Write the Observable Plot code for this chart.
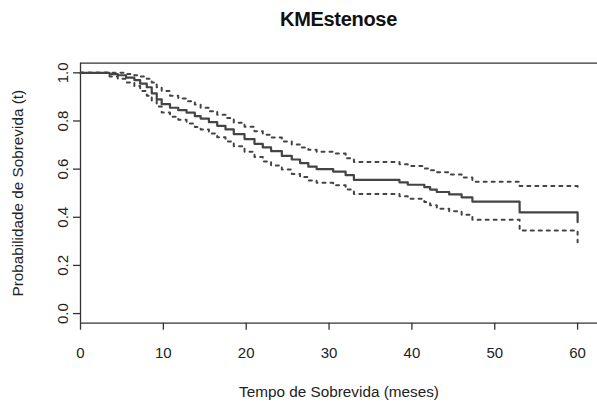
<!DOCTYPE html>
<html><head><meta charset="utf-8">
<script src="https://cdn.jsdelivr.net/npm/d3@7"></script>
<script src="https://cdn.jsdelivr.net/npm/@observablehq/plot@0.6"></script>
<style>
html,body{margin:0;padding:0;background:#fff;}
#title{width:517px;height:40px;line-height:39px;padding-left:80px;text-align:center;font-family:"Liberation Sans",Arial,sans-serif;font-weight:bold;font-size:20px;letter-spacing:-0.3px;color:#111;}
</style></head><body>
<div id="title">KMEstenose</div>
<div id="chart"></div>
<script>
const titleText = "KMEstenose";
const xLabel = "Tempo de Sobrevida (meses)";
const yLabel = "Probabilidade de Sobrevida (t)";
const xTicks = [0, 10, 20, 30, 40, 50, 60];
const yTicks = [0, 0.2, 0.4, 0.6, 0.8, 1.0];

const times = [0, 3.5, 4.5, 5.5, 6.5, 7.2, 8.0, 8.6, 9.2, 9.8, 10.8, 11.8, 12.8, 13.8, 14.5, 15.5, 16.5, 17.5, 18.5, 19.8, 21.0, 22.0, 23.0, 24.3, 25.5, 26.5, 27.5, 28.5, 30.5, 32.0, 33.0, 38.5, 39.5, 41.5, 42.2, 43.0, 44.5, 46.0, 47.3, 53.0, 60];
const surv = [1.0, 0.995, 0.99, 0.98, 0.97, 0.955, 0.94, 0.915, 0.89, 0.87, 0.855, 0.845, 0.835, 0.82, 0.81, 0.795, 0.78, 0.765, 0.745, 0.725, 0.705, 0.69, 0.675, 0.655, 0.64, 0.625, 0.61, 0.60, 0.59, 0.575, 0.555, 0.545, 0.535, 0.525, 0.515, 0.505, 0.495, 0.483, 0.465, 0.42, 0.38];
const upper = [1.0, 1.0, 1.0, 0.995, 0.99, 0.985, 0.975, 0.96, 0.94, 0.925, 0.905, 0.893, 0.882, 0.868, 0.855, 0.84, 0.826, 0.812, 0.793, 0.776, 0.757, 0.743, 0.731, 0.715, 0.702, 0.69, 0.68, 0.672, 0.665, 0.645, 0.63, 0.62, 0.613, 0.603, 0.595, 0.587, 0.578, 0.565, 0.548, 0.53, 0.51];
const lower = [1.0, 0.985, 0.975, 0.96, 0.945, 0.925, 0.905, 0.885, 0.86, 0.835, 0.818, 0.805, 0.79, 0.775, 0.765, 0.748, 0.732, 0.715, 0.695, 0.672, 0.65, 0.632, 0.615, 0.598, 0.58, 0.567, 0.553, 0.543, 0.533, 0.515, 0.497, 0.487, 0.477, 0.463, 0.45, 0.435, 0.425, 0.41, 0.39, 0.345, 0.296];

const data = times.map((t, i) => ({t, s: surv[i], hi: upper[i], lo: lower[i]}));
const xDomain = [0, 62.4];
const yDomain = [-0.04, 1.04];
const font = '"Liberation Sans",Arial,Helvetica,sans-serif';
document.getElementById("title").textContent = titleText;

const chart = Plot.plot({
  width: 597,
  height: 372,
  marginTop: 22.7,
  marginBottom: 89.3,
  marginLeft: 80,
  marginRight: 0,
  style: {fontFamily: font, background: "#fff", color: "#222", overflow: "visible"},
  x: {domain: xDomain, axis: null},
  y: {domain: yDomain, axis: null},
  marks: [
    Plot.ruleY(yDomain, {stroke: "#333", strokeWidth: 1.3}),
    Plot.ruleX([xDomain[0]], {stroke: "#333", strokeWidth: 1.3}),
    Plot.axisX({ticks: xTicks, tickSize: 7, tickPadding: 17, fontSize: 15, label: null, stroke: "#333", strokeWidth: 1.3}),
    Plot.axisY({ticks: yTicks, tickSize: 7, tickFormat: () => "", label: null, stroke: "#333", strokeWidth: 1.3}),
    Plot.text(yTicks, {y: d => d, text: d => d3.format(".1f")(d), frameAnchor: "left", dx: -13, rotate: -90, textAnchor: "middle", lineAnchor: "bottom", fontSize: 15, fill: "#222"}),
    Plot.text([xLabel], {text: d => d, frameAnchor: "bottom", dy: 69, lineAnchor: "middle", textAnchor: "middle", fontSize: 15.3, fill: "#222"}),
    Plot.text([yLabel], {text: d => d, frameAnchor: "left", dx: -62, rotate: -90, lineAnchor: "middle", textAnchor: "middle", fontSize: 15.3, fill: "#222"}),
    Plot.line(data, {x: "t", y: "hi", curve: "step-after", stroke: "#444", strokeWidth: 2, strokeDasharray: "3,5"}),
    Plot.line(data, {x: "t", y: "lo", curve: "step-after", stroke: "#444", strokeWidth: 2, strokeDasharray: "3,5"}),
    Plot.line(data, {x: "t", y: "s", curve: "step-after", stroke: "#444", strokeWidth: 2.2})
  ]
});
document.getElementById("chart").appendChild(chart);
</script>
</body></html>
